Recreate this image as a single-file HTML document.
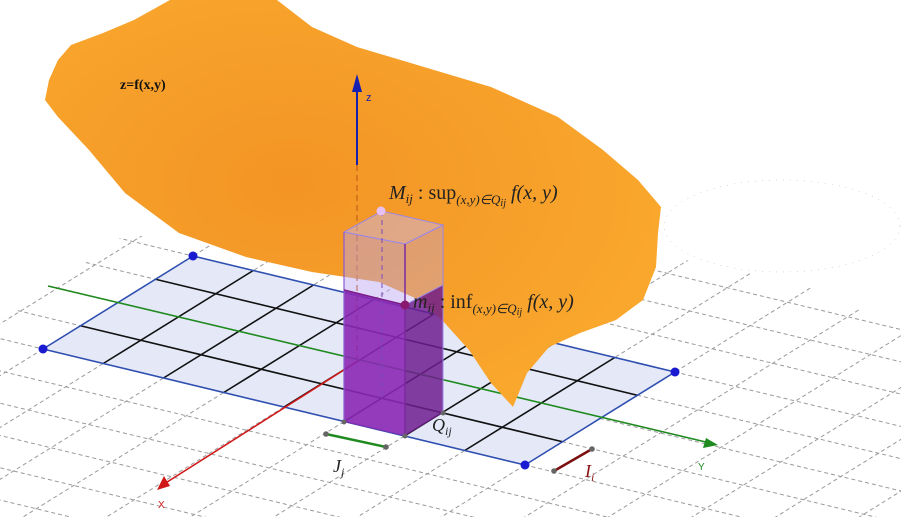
<!DOCTYPE html>
<html><head><meta charset="utf-8"><style>
html,body{margin:0;padding:0;background:#fff;overflow:hidden;width:901px;height:517px;}
svg{display:block;}
.m{font-family:"Liberation Serif",serif;font-style:italic;}
.r{font-family:"Liberation Serif",serif;}
</style></head><body>
<svg id="s" width="901" height="517" viewBox="0 0 901 517" xmlns="http://www.w3.org/2000/svg">
<defs>
<radialGradient id="og" cx="0.4" cy="0.45" r="0.7">
<stop offset="0" stop-color="#f39425"/><stop offset="0.5" stop-color="#f69f2a"/><stop offset="1" stop-color="#fbaa2e"/>
</radialGradient>
<clipPath id="floorClip">
<polygon points="0,323 123,236 200,236 340,270 660,255 747,272 810,288 901,325 901,517 0,517"/>
</clipPath>
</defs>
<g id="floorGrid" clip-path="url(#floorClip)"></g>
<ellipse cx="782" cy="226" rx="118" ry="46" fill="none" stroke="#777" stroke-width="0.5" stroke-dasharray="1,6" opacity="0.6"/>
<g id="rect"></g>
<line x1="48" y1="286" x2="710" y2="443" stroke="#1f8a1f" stroke-width="1.6"/>
<polygon points="718,445 703,448 706,438" fill="#1f8a1f"/>
<text x="698" y="470" font-family="Liberation Sans,sans-serif" font-size="10" fill="#1f8a1f">Y</text>
<line x1="358" y1="361" x2="164" y2="484" stroke="#d01818" stroke-width="1.6"/>
<polygon points="157,490 164,476 170,486" fill="#d01818"/>
<text x="158" y="508" font-family="Liberation Sans,sans-serif" font-size="10" fill="#d01818">X</text>

<path fill="url(#og)" d="M71,45 L103,33 L134,20 L170,0 L277,0 L312,27 L357,47 L424,67 L491,87 L558,117 L603,150 L638,180 L661,207 L658,233 L656,267 L643,300 L616,320 L580,333 L549,347 L527,373 L513,407 L491,383 L469,350 L442,320 L415,298 L379,282 L312,272 L246,257 L179,233 L125,193 L89,150 L58,117 L45,100 L49,80 L58,60 Z"/>
<text x="120" y="89" class="r" font-size="14" font-weight="bold" fill="#111">z=f(x,y)</text>

<line x1="357" y1="165" x2="357" y2="361" stroke="#c8651a" stroke-width="1.3" stroke-dasharray="6,4"/>
<line x1="357" y1="165" x2="357" y2="88" stroke="#1520b0" stroke-width="2"/>
<polygon points="357,74 352,92 362,92" fill="#1520b0"/>
<text x="366" y="101" font-family="Liberation Sans,sans-serif" font-size="11" fill="#1520b0">z</text>

<g>
<polygon points="344,422 405,436 405,305 344,290" fill="#8a28b4" fill-opacity="0.9"/>
<polygon points="405,436 443,413 443,285 405,305" fill="#6e1d8e" fill-opacity="0.85"/>
<polygon points="344,290 405,305 405,244 344,232" fill="#b9a4f2" fill-opacity="0.45" stroke="#9c86e6" stroke-width="1"/>
<polygon points="405,305 443,285 443,225 405,244" fill="#b9a4f2" fill-opacity="0.35" stroke="#9c86e6" stroke-width="1"/>
<polygon points="344,232 405,244 443,225 382,211" fill="#c8b8f8" fill-opacity="0.45" stroke="#9c86e6" stroke-width="1"/>
<line x1="382" y1="211" x2="382" y2="399" stroke="#7a4ab8" stroke-dasharray="5,4" stroke-width="1"/>
<line x1="344" y1="422" x2="344" y2="232" stroke="#8a5ad0" stroke-width="1.2"/>
<line x1="405" y1="436" x2="405" y2="244" stroke="#7a2aa0" stroke-width="1.5"/>
<line x1="443" y1="413" x2="443" y2="225" stroke="#9c86e6" stroke-width="1"/>
<line x1="344" y1="290" x2="405" y2="305" stroke="#7a1a8a" stroke-width="1.5"/>
</g>
<circle cx="381" cy="211" r="4.5" fill="#e8c0f4"/>
<circle cx="405" cy="305" r="4.5" fill="#8a1a70"/>
<circle cx="344" cy="422" r="2.5" fill="#666"/><circle cx="405" cy="436" r="2.5" fill="#666"/><circle cx="443" cy="413" r="2.5" fill="#666"/>

<text x="389" y="199" class="m" font-size="20" fill="#222">M<tspan font-size="13" dy="4">ij</tspan><tspan dy="-4" font-style="normal"> :  sup</tspan><tspan font-size="13" dy="5">(x,y)∈Q</tspan><tspan font-size="10" dy="2">ij</tspan><tspan dy="-7"> f(x, y)</tspan></text>
<text x="413" y="308" class="m" font-size="20" fill="#222">m<tspan font-size="13" dy="4">ij</tspan><tspan dy="-4" font-style="normal"> :  inf</tspan><tspan font-size="13" dy="5">(x,y)∈Q</tspan><tspan font-size="10" dy="2">ij</tspan><tspan dy="-7"> f(x, y)</tspan></text>
<text x="432" y="431" class="m" font-size="18" fill="#222">Q<tspan font-size="12" dy="4">ij</tspan></text>

<line x1="326" y1="434" x2="386" y2="447" stroke="#1f8a1f" stroke-width="2.5"/>
<circle cx="326" cy="434" r="2.8" fill="#666"/><circle cx="386" cy="447" r="2.8" fill="#666"/>
<text x="333" y="472" class="m" font-size="18" fill="#222">J<tspan font-size="12" dy="4">j</tspan></text>
<line x1="554" y1="471" x2="592" y2="449" stroke="#7a1010" stroke-width="2.5"/>
<circle cx="554" cy="471" r="2.8" fill="#666"/><circle cx="592" cy="449" r="2.8" fill="#666"/>
<text x="585" y="477" class="m" font-size="18" fill="#8a1010">I<tspan font-size="12" dy="4">i</tspan></text>
<g id="corners"></g>
</svg>
<script>
const NS="http://www.w3.org/2000/svg";
const cellsA=[0,1,2,3,4,5,6,7,8];
const cellsB=[0,1,2,3,4];
const innerB=[1,3];
const dashA=[-12,-11,-10,-9,-8,-7,-6,-5,-4,-3,-2,-1,0,1,2,3,4,5,6,7,8,9,10,11,12,13,14,15,16,17,18,19,20];
const dashB=[-12,-11,-10,-9,-8,-7,-6,-5,-4,-3,-2,-1,0,1,2,3,4,5,6,7,8,9,10];
function P(a,b){return [43+a*60.25+b*37.5, 349+a*14.5-b*23.25];}
function ln(g,p,q,st,w,da,name){
  const l=document.createElementNS(NS,'line');
  l.setAttribute('x1',p[0]);l.setAttribute('y1',p[1]);l.setAttribute('x2',q[0]);l.setAttribute('y2',q[1]);
  l.setAttribute('stroke',st);l.setAttribute('stroke-width',w);
  if(da)l.setAttribute('stroke-dasharray',da);
  
  
  g.appendChild(l);
}
const fg=document.getElementById('floorGrid');
const a0=dashA[0],a1=dashA[dashA.length-1],b0=dashB[0],b1=dashB[dashB.length-1];
dashA.forEach(a=>ln(fg,P(a,b0),P(a,b1),'#9a9a9a',1,'4,3','dashed-grid-line'));
dashB.forEach(b=>ln(fg,P(a0,b),P(a1,b),'#9a9a9a',1,'4,3','dashed-grid-line'));
const rg=document.getElementById('rect');
const A=cellsA[cellsA.length-1],B=cellsB[cellsB.length-1];
const poly=document.createElementNS(NS,'polygon');
poly.setAttribute('points',[P(0,0),P(A,0),P(A,B),P(0,B)].map(p=>p.join(',')).join(' '));
poly.setAttribute('fill','#e4e8f7');


rg.appendChild(poly);
cellsA.slice(1,-1).forEach(a=>ln(rg,P(a,0),P(a,B),'#111',1.6,null,'partition-line'));
innerB.forEach(b=>ln(rg,P(0,b),P(A,b),'#111',1.6,null,'partition-line'));
ln(rg,P(0,0),P(A,0),'#2f4fb0',1.6,null,'rectangle-edge');
ln(rg,P(A,0),P(A,B),'#2f4fb0',1.6,null,'rectangle-edge');
ln(rg,P(A,B),P(0,B),'#2f4fb0',1.6,null,'rectangle-edge');
ln(rg,P(0,B),P(0,0),'#2f4fb0',1.6,null,'rectangle-edge');
const cg=document.getElementById('corners');
[[0,0],[A,0],[A,B],[0,B]].forEach(c=>{
  const p=P(c[0],c[1]);
  const d=document.createElementNS(NS,'circle');
  d.setAttribute('cx',p[0]);d.setAttribute('cy',p[1]);d.setAttribute('r',4.5);d.setAttribute('fill','#1a1ad0');
  
  
  cg.appendChild(d);
});
</script>
</body></html>
